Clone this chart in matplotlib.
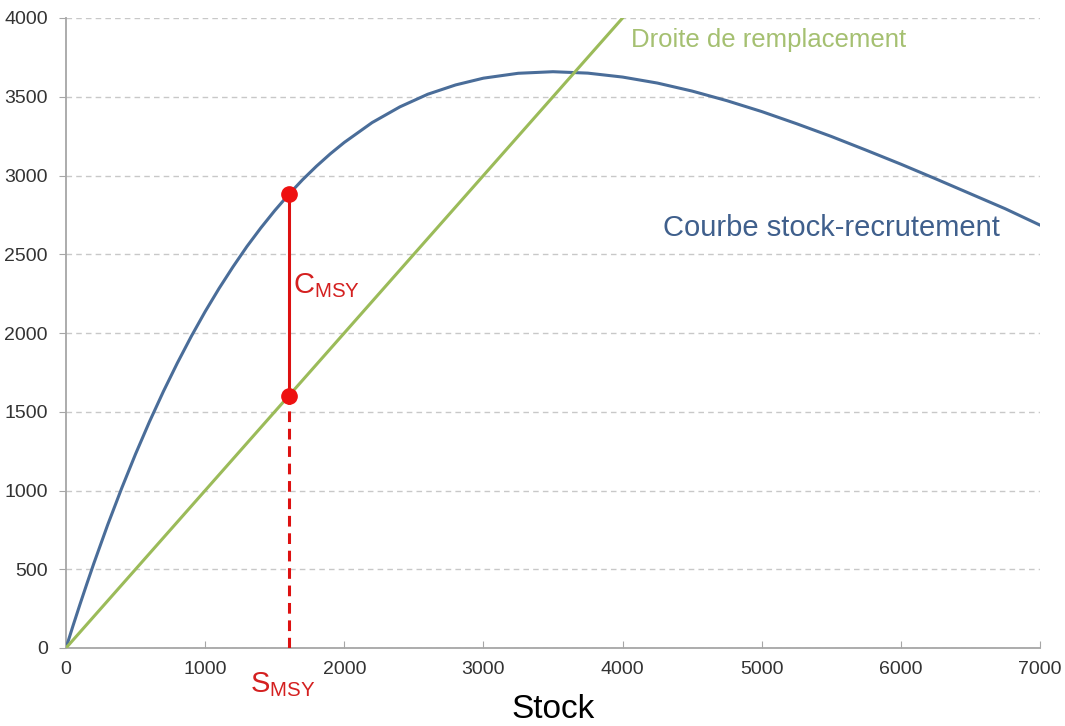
import matplotlib
matplotlib.use("Agg")
import matplotlib.pyplot as plt

plt.rcParams['font.family'] = ['Liberation Sans', 'DejaVu Sans']
plt.rcParams['mathtext.fontset'] = 'custom'
plt.rcParams['mathtext.rm'] = 'Liberation Sans'
plt.rcParams['mathtext.it'] = 'Liberation Sans'

# Stock-recruitment curve, values
stock = [0, 50, 100, 150, 200, 300, 400, 500, 600, 700, 800, 900, 1000, 1100, 1200,
         1300, 1400, 1500, 1600, 1700, 1800, 1900, 2000, 2200, 2400, 2600, 2800,
         3000, 3250, 3500, 3750, 4000, 4250, 4500, 4750, 5000, 5250, 5500, 5750,
         6000, 6250, 6500, 6750, 7000]
recruitment = [0, 140, 276, 408, 537, 783, 1014, 1232, 1437, 1629, 1809, 1978, 2136,
               2283, 2420, 2549, 2667, 2777, 2879, 2973, 3059, 3138, 3210, 3336, 3436,
               3516, 3575, 3618, 3649, 3659, 3650, 3625, 3587, 3536, 3475, 3406, 3329,
               3248, 3161, 3072, 2979, 2884, 2789, 2685]

# Replacement line
repl_x = [0, 4000]
repl_y = [0, 4000]

# MSY points
s_msy = 1600
r_msy_curve = 2880
r_msy_line = 1600

xticks = [0, 1000, 2000, 3000, 4000, 5000, 6000, 7000]
yticks = [0, 500, 1000, 1500, 2000, 2500, 3000, 3500, 4000]

blue = '#4a6d99'
green = '#9bbb59'
red = '#ee1111'

fig = plt.figure(figsize=(10.65, 7.26), dpi=100)
ax = fig.add_axes([66/1065, 78/726, 974/1065, 630/726])

ax.plot(stock, recruitment, color=blue, lw=2.2, zorder=3, solid_joinstyle='round')
ax.plot(repl_x, repl_y, color=green, lw=2.2, zorder=3, clip_on=True)
ax.plot([s_msy, s_msy], [r_msy_line, r_msy_curve], color='#dd1111', lw=2.2, zorder=4)
ax.plot([s_msy, s_msy], [0, r_msy_line], color='#dd1111', lw=2.2, ls=(0, (3.5, 2.2)), zorder=4)
ax.plot([s_msy, s_msy], [r_msy_line, r_msy_curve], 'o', color=red, ms=11, zorder=5)

ax.set_xlim(0, 7000)
ax.set_ylim(0, 4000)
ax.set_xticks(xticks)
ax.set_yticks(yticks)
ax.yaxis.grid(True, color='#c8c8c8', ls=(0, (4, 3)), lw=1)
ax.set_axisbelow(True)
for s in ['top', 'right']:
    ax.spines[s].set_visible(False)
for s in ['left', 'bottom']:
    ax.spines[s].set_color('#a6a6a6')
    ax.spines[s].set_linewidth(1.3)
ax.tick_params(axis='y', direction='out', length=5, color='#a6a6a6', labelsize=14,
               labelcolor='#333333', pad=8)
ax.tick_params(axis='x', direction='in', length=5, color='#a6a6a6', labelsize=14,
               labelcolor='#333333', pad=9)
ax.set_xlabel('Stock', fontsize=24, color='black', labelpad=12)

ax.text(4060, 3860, 'Droite de remplacement', color='#a5c071', fontsize=18.5,
        va='center', ha='left')
ax.text(4290, 2665, 'Courbe stock-recrutement', color='#3f5f8c', fontsize=21,
        va='center', ha='left')
ax.text(1630, 2300, r'C$_{\mathrm{MSY}}$', color='#d42020', fontsize=21,
        va='center', ha='left')
ax.text(1790, -230, r'S$_{\mathrm{MSY}}$', color='#d42020', fontsize=21,
        va='center', ha='right', clip_on=False)

fig.savefig('out.png', dpi=100, facecolor='white')
